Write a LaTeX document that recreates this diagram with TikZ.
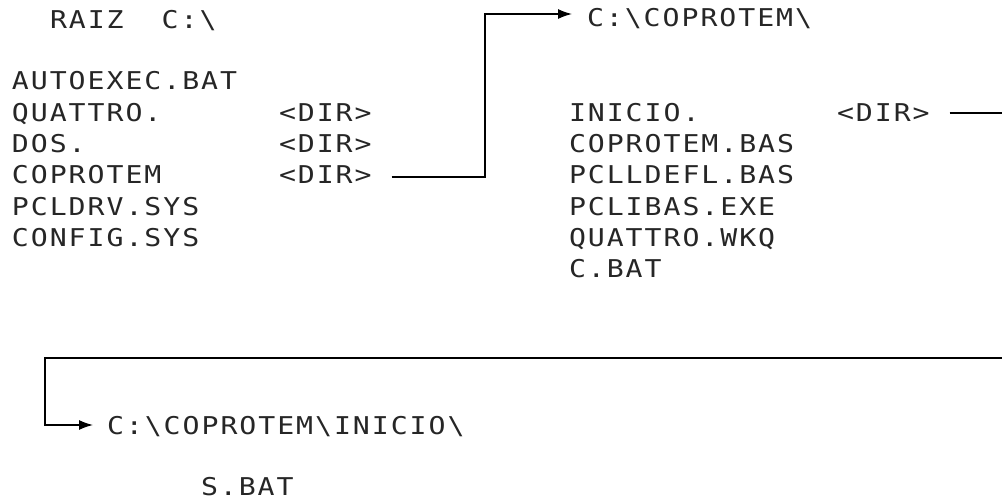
\documentclass[tikz,border=0pt]{standalone}
\usepackage{fontspec}
\newfontfamily\plotfont[FakeStretch=1.15,LetterSpace=8]{DejaVu Sans Mono}
\usetikzlibrary{arrows.meta,calc}
\begin{document}
\begin{tikzpicture}[x=1pt,y=-1pt,
  txt/.style={anchor=west,inner sep=0pt,outer sep=0pt,text height=18pt,text depth=0pt,
    text=black!85,font=\plotfont\fontsize{24.5}{28}\selectfont},
  conn/.style={line width=1.4pt,-{Latex[length=14pt,width=10pt]}}]
\clip (0,0) rectangle (1002,500);
\fill[white] (0,0) rectangle (1002,500);
% root directory
\node[txt] (raiz) at (50,20) {RAIZ\hspace{38pt}C:\textbackslash};
\node[txt] (a1) at (12,81) {AUTOEXEC.BAT};
\node[txt] (a2) at (12,113) {QUATTRO.};
\node[txt] (a3) at (12,144) {DOS.};
\node[txt] (a4) at (12,175) {COPROTEM};
\node[txt] (a5) at (12,206) {PCLDRV.SYS};
\node[txt] (a6) at (12,237) {CONFIG.SYS};
\node[txt] (d2) at (279,113) {<DIR>};
\node[txt] (d3) at (279,144) {<DIR>};
\node[txt] (d4) at (279,175) {<DIR>};
% COPROTEM directory
\node[txt] (croot) at (587,18) {C:\textbackslash COPROTEM\textbackslash};
\node[txt] (b1) at (569,113) {INICIO.};
\node[txt] (b2) at (569,144) {COPROTEM.BAS};
\node[txt] (b3) at (569,175) {PCLLDEFL.BAS};
\node[txt] (b4) at (569,206) {PCLIBAS.EXE};
\node[txt] (b5) at (569,237) {QUATTRO.WKQ};
\node[txt] (b6) at (569,268) {C.BAT};
\node[txt] (db1) at (837,113) {<DIR>};
% INICIO directory
\node[txt] (iroot) at (107,425) {C:\textbackslash COPROTEM\textbackslash INICIO\textbackslash};
\node[txt] (c1) at (201,486) {S.BAT};
% connectors
\coordinate (k1) at (485,14);
\draw[conn] ([xshift=20pt,yshift=-2pt]d4.east) -| (k1) -- ([xshift=-15pt]croot.west |- k1);
\coordinate (e1) at (1015,113);
\coordinate (e2) at (45,358);
\draw[conn] ([xshift=20pt]db1.east) -- (e1) |- (e2) |- ([xshift=-14pt]iroot.west);
\end{tikzpicture}
\end{document}
